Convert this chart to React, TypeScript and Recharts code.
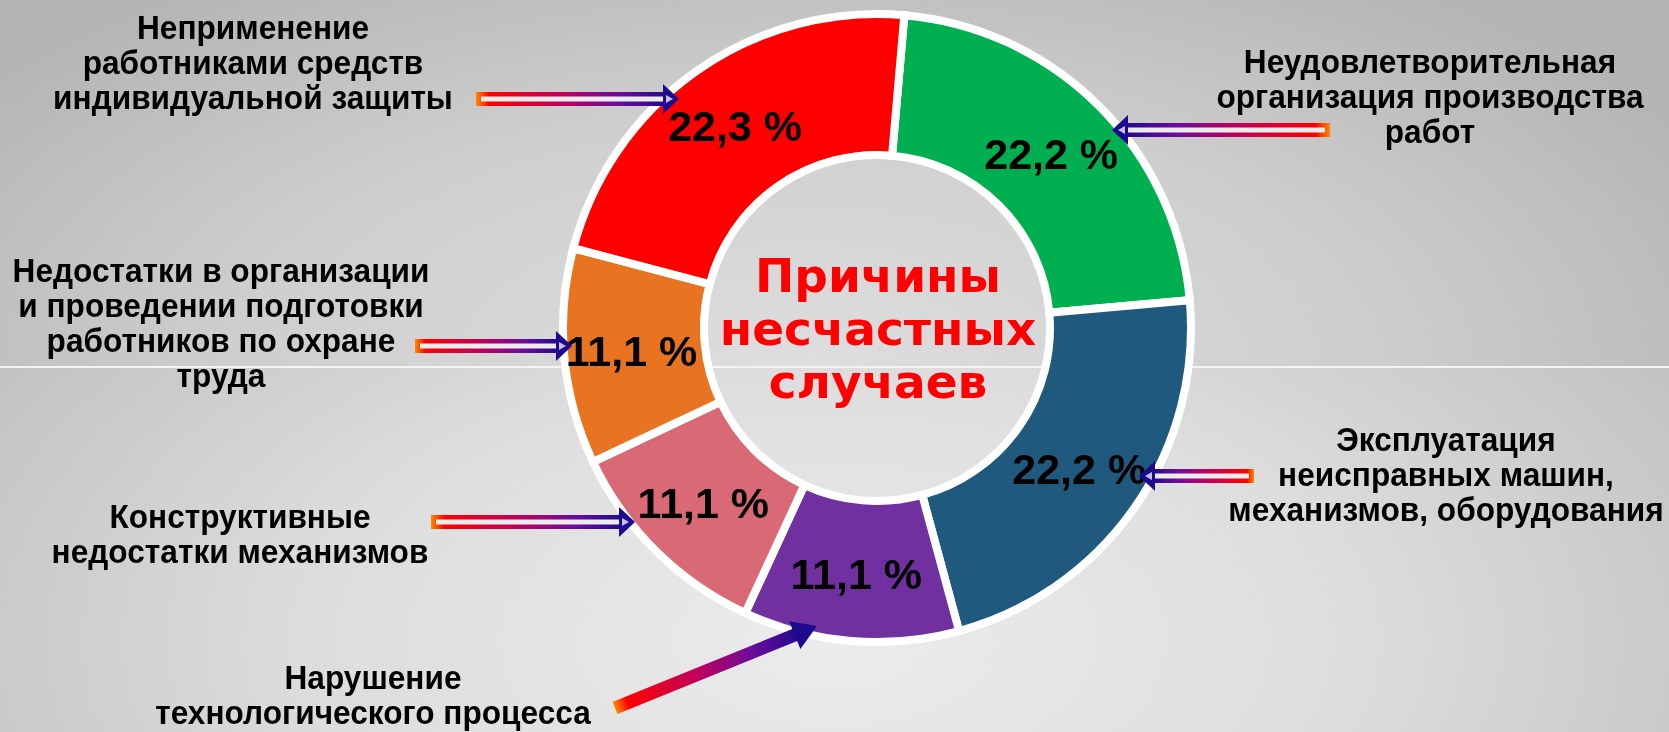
import { PieChart, Pie, Cell } from 'recharts';

// causes, clockwise from the top
const causes = [
  'Неудовлетворительная\nорганизация производства\nработ',
  'Эксплуатация\nнеисправных машин,\nмеханизмов, оборудования',
  'Нарушение\nтехнологического процесса',
  'Конструктивные\nнедостатки механизмов',
  'Недостатки в организации\nи проведении подготовки\nработников по охране\nтруда',
  'Неприменение\nработниками средств\nиндивидуальной защиты',
];
const shares = [22.2, 22.2, 11.1, 11.1, 11.1, 22.3];
const title = ['Причины', 'несчастных', 'случаев'];

const COLORS = ['#00b050', '#1f5a7e', '#7030a0', '#d96a75', '#e87422', '#ff0000'];

// where each callout sits: text centre (first line) and arrow tail -> tip
const callouts = [
  { tx: 1430, ty: 61, arrow: [1330, 130, 1112, 130] },
  { tx: 1446, ty: 439, arrow: [1254, 476, 1139, 476] },
  { tx: 373, ty: 677, arrow: [615, 708, 817, 626], solid: true },
  { tx: 240, ty: 516, arrow: [431, 522, 635, 522] },
  { tx: 221, ty: 270, arrow: [415, 346, 572, 346] },
  { tx: 253, ty: 27, arrow: [476, 99, 679, 99] },
];

const W = 1669;
const H = 732;
const RAD = Math.PI / 180;
const LABEL_FONT = "'Liberation Sans', Arial, sans-serif";

const data = causes.map((name, i) => ({ name, value: shares[i] }));

const renderShare = (p: any) => {
  const r = (p.innerRadius + p.outerRadius) / 2 + 3;
  const x = p.cx + r * Math.cos(-p.midAngle * RAD);
  const y = p.cy + r * Math.sin(-p.midAngle * RAD);
  return (
    <text x={x} y={y} textAnchor="middle" dominantBaseline="central"
      fontFamily={LABEL_FONT} fontWeight="bold" fontSize={43} fill="#000">
      {shares[p.index].toFixed(1).replace('.', ',') + ' %'}
    </text>
  );
};

const Arrow = ({ a, solid }: { a: number[]; solid?: boolean }) => {
  const [x1, y1, x2, y2] = a;
  const L = Math.hypot(x2 - x1, y2 - y1);
  const ang = (Math.atan2(y2 - y1, x2 - x1) * 180) / Math.PI;
  if (solid) {
    return (
      <g transform={`translate(${x1},${y1}) rotate(${ang})`}>
        <rect x={0} y={-6.5} width={L - 20} height={13} fill="url(#arrowGrad)" />
        <polygon points={`${L - 24},-15 ${L},0 ${L - 24},15`} fill="#1e0a8c" />
      </g>
    );
  }
  return (
    <g transform={`translate(${x1},${y1}) rotate(${ang})`}>
      <rect x={0} y={-7} width={L - 12} height={14} fill="url(#arrowGrad)" />
      <rect x={5} y={-2.5} width={L - 18} height={5} fill="#ececec" />
      <polygon points={`${L - 16},-15 ${L},0 ${L - 16},15`} fill="#1e0a8c" />
      <polygon points={`${L - 13},-4 ${L - 6},0 ${L - 13},4`} fill="#c8c0e8" />
    </g>
  );
};

export default function App() {
  return (
    <div style={{ position: 'fixed', left: 0, top: 0, width: W, height: H, overflow: 'hidden' }}>
      <div style={{
        position: 'absolute', left: 0, top: 0, width: W, height: 366,
        background: 'radial-gradient(ellipse 62% 130% at 48% 100%, #dedede 0%, #cecece 55%, #b4b4b4 100%)',
      }} />
      <div style={{
        position: 'absolute', left: 0, top: 368, width: W, height: H - 368,
        background: 'radial-gradient(ellipse 62% 150% at 50% 75%, #ececec 0%, #dddddd 50%, #bfbfbf 100%)',
      }} />
      <div style={{ position: 'absolute', left: 0, top: 366, width: W, height: 2, background: '#f4f4f4' }} />

      <div style={{ position: 'absolute', left: 0, top: 0 }}>
        <PieChart width={W} height={H}>
          <Pie
            data={data}
            dataKey="value"
            nameKey="name"
            cx={872}
            cy={323}
            innerRadius={173}
            outerRadius={314}
            startAngle={85}
            endAngle={-275}
            stroke="#ffffff"
            strokeWidth={8}
            label={renderShare}
            labelLine={false}
            isAnimationActive={false}
          >
            {data.map((d, i) => (
              <Cell key={d.name} fill={COLORS[i]} />
            ))}
          </Pie>
        </PieChart>
      </div>

      <svg width={W} height={H} style={{ position: 'absolute', left: 0, top: 0, pointerEvents: 'none' }}>
        <defs>
          <linearGradient id="arrowGrad" x1="0" y1="0" x2="1" y2="0">
            <stop offset="0" stopColor="#ff8a00" />
            <stop offset="0.07" stopColor="#ff0000" />
            <stop offset="0.45" stopColor="#c0005c" />
            <stop offset="0.75" stopColor="#6c0c9c" />
            <stop offset="1" stopColor="#22088c" />
          </linearGradient>
        </defs>

        {title.map((t, i) => (
          <text key={t} x={878} y={275 + i * 53} textAnchor="middle" dominantBaseline="central"
            fontFamily="'DejaVu Sans', Verdana, sans-serif" fontWeight="bold" fontSize={47} fill="#ff0000">
            {t}
          </text>
        ))}

        {callouts.map((c, i) => (
          <g key={i}>
            <g transform={`translate(${c.tx},0) scale(0.93,1) translate(${-c.tx},0)`}>
              <text x={c.tx} textAnchor="middle" fontFamily={LABEL_FONT} fontWeight="bold" fontSize={34} fill="#000">
                {causes[i].split('\n').map((line, j) => (
                  <tspan key={j} x={c.tx} y={c.ty + j * 35} dominantBaseline="central">{line}</tspan>
                ))}
              </text>
            </g>
            <Arrow a={c.arrow} solid={c.solid} />
          </g>
        ))}
      </svg>
    </div>
  );
}
